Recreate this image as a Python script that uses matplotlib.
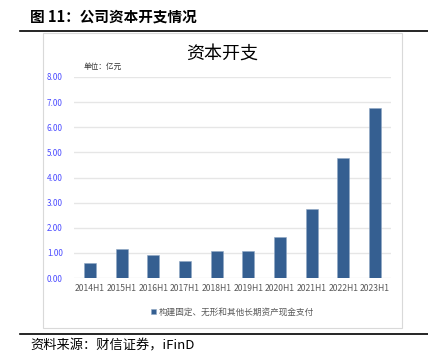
import matplotlib
matplotlib.use('Agg')
import matplotlib.pyplot as plt
from matplotlib.patches import Rectangle
from matplotlib.lines import Line2D

plt.rcParams['font.family'] = ['Noto Sans CJK SC', 'DejaVu Sans']

# data
periods = ['2014H1', '2015H1', '2016H1', '2017H1', '2018H1',
           '2019H1', '2020H1', '2021H1', '2022H1', '2023H1']
capex = [0.60, 1.14, 0.93, 0.68, 1.06, 1.08, 1.62, 2.73, 4.77, 6.78]
yticks = [0, 1, 2, 3, 4, 5, 6, 7, 8]

W, H = 428, 358
fig = plt.figure(figsize=(W / 100, H / 100), dpi=100)

def px(x, y):
    # pixel coords (top-left origin) -> figure fraction
    return x / W, 1 - y / H

# header / footer
fig.text(*px(30, 17), '图 11：公司资本开支情况', fontsize=10.5, fontweight='bold',
         va='center', ha='left')
fig.add_artist(Line2D([20 / W, 1], [1 - 31 / H] * 2, color='black', lw=1.2))
fig.add_artist(Line2D([20 / W, 1], [1 - 334 / H] * 2, color='black', lw=1.2))
fig.text(*px(30, 346), '资料来源：财信证券，iFinD', fontsize=9.5, style='italic',
         va='center', ha='left')

# chart frame
fig.add_artist(Rectangle(px(43, 328), (402 - 43) / W, (328 - 33) / H,
                         transform=fig.transFigure, fill=False,
                         edgecolor='#d9d9d9', lw=0.8))
fig.text(*px(222, 54), '资本开支', fontsize=13, va='center', ha='center')
fig.text(*px(84, 67), '单位：亿元', fontsize=5.5, va='center', ha='left',
         color='#333333')

ax = fig.add_axes([74 / W, 1 - 278 / H, (391 - 74) / W, (278 - 77) / H])
x = range(len(periods))
ax.bar(x, capex, width=0.38, color='#355f91', edgecolor='#8fa7c4', lw=0.4,
       zorder=3, label='构建固定、无形和其他长期资产现金支付')
ax.set_ylim(0, 8)
ax.set_xlim(-0.5, len(periods) - 0.5)
ax.set_yticks(yticks)
ax.set_yticklabels([f'{v:.2f}' for v in yticks], fontsize=5.8, color='#4a4aff')
ax.set_xticks(list(x))
ax.set_xticklabels(periods, fontsize=6.2, color='#595959')
ax.tick_params(length=0, pad=4)
ax.tick_params(axis='y', pad=8)
ax.grid(axis='y', color='#e6e6e6', lw=1, zorder=0)
for s in ax.spines.values():
    s.set_visible(False)

leg = ax.legend(loc='center', bbox_to_anchor=(0.5, -0.17), frameon=False,
                fontsize=6.2, handlelength=0.6, handleheight=0.6,
                handletextpad=0.3)
for t in leg.get_texts():
    t.set_color('#595959')

fig.savefig('out.png', dpi=100)
